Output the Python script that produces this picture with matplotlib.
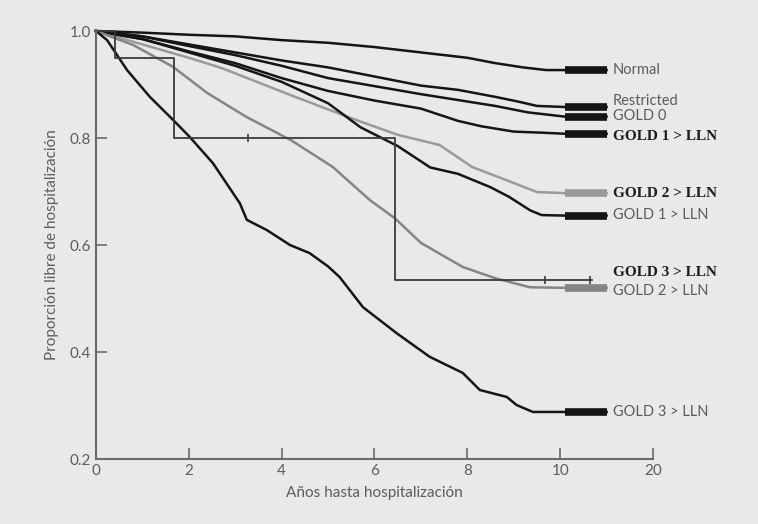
import numpy as np
import matplotlib
matplotlib.use("Agg")
import matplotlib.pyplot as plt

# Kaplan-Meier style curves
normal_x = [0, 1, 2, 3, 4, 5, 6, 7, 8, 8.6, 9.2, 9.7, 10.1, 11.0]
normal_y = [1.0, 0.997, 0.993, 0.99, 0.983, 0.978, 0.97, 0.96, 0.95, 0.94, 0.932, 0.927, 0.927, 0.927]

restricted_x = [0, 1, 2, 3, 4, 5, 6, 7, 7.8, 8.6, 9.1, 9.5, 10.1, 11.0]
restricted_y = [1.0, 0.99, 0.975, 0.96, 0.945, 0.932, 0.915, 0.898, 0.89, 0.877, 0.868, 0.86, 0.858, 0.858]

gold0_x = [0, 1, 2, 3, 4, 5, 6, 7, 7.8, 8.6, 9.3, 10.1, 11.0]
gold0_y = [1.0, 0.99, 0.972, 0.955, 0.935, 0.912, 0.897, 0.882, 0.871, 0.86, 0.848, 0.84, 0.84]

gold1b_x = [0, 1, 2, 3, 4, 5, 6, 7, 7.8, 8.3, 9.0, 9.6, 10.1, 11.0]
gold1b_y = [1.0, 0.985, 0.962, 0.94, 0.912, 0.888, 0.87, 0.855, 0.832, 0.822, 0.812, 0.81, 0.808, 0.808]

gold1_x = [0, 1, 2, 3, 4, 5, 5.7, 6.5, 7.2, 7.8, 8.5, 8.9, 9.35, 9.6, 10.1, 11.0]
gold1_y = [1.0, 0.985, 0.96, 0.935, 0.905, 0.865, 0.82, 0.785, 0.745, 0.733, 0.708, 0.69, 0.665, 0.656, 0.655, 0.655]

gold2b_x = [0, 1, 2, 2.7, 4.2, 5.5, 6.5, 7.4, 8.1, 8.85, 9.5, 10.1, 11.0]
gold2b_y = [1.0, 0.975, 0.95, 0.931, 0.88, 0.837, 0.806, 0.787, 0.746, 0.721, 0.699, 0.697, 0.697]

gold2_x = [0, 0.8, 1.66, 2.4, 3.25, 4.2, 5.1, 5.9, 6.44, 7.0, 7.9, 8.6, 9.35, 10.1, 11.0]
gold2_y = [1.0, 0.974, 0.933, 0.884, 0.839, 0.796, 0.746, 0.684, 0.65, 0.604, 0.559, 0.538, 0.521, 0.52, 0.52]

gold3_x = [0, 0.24, 0.67, 1.16, 1.66, 2.02, 2.52, 3.1, 3.25, 3.68, 4.18, 4.6, 5.0, 5.25,
           5.75, 6.48, 7.19, 7.9, 8.27, 8.85, 9.06, 9.41, 10.1, 11.0]
gold3_y = [1.0, 0.983, 0.927, 0.877, 0.834, 0.802, 0.753, 0.678, 0.647, 0.628, 0.6, 0.585, 0.56, 0.54,
           0.484, 0.435, 0.391, 0.361, 0.329, 0.316, 0.301, 0.288, 0.288, 0.288]

# small group: step curve with a few censored cases
gold3b_x = [0, 0.4, 1.68, 6.44, 10.68]
gold3b_y = [1.0, 0.95, 0.80, 0.535, 0.535]
gold3b_censor_x = [3.27, 9.67, 10.64]
gold3b_censor_y = [0.80, 0.535, 0.535]

labels = ["Normal", "Restricted", "GOLD 0", "GOLD 1 > LLN", "GOLD 2 > LLN",
          "GOLD 1 > LLN", "GOLD 3 > LLN", "GOLD 2 > LLN", "GOLD 3 > LLN"]
label_y = [0.927, 0.869, 0.841, 0.802, 0.697, 0.656, 0.548, 0.514, 0.288]
label_bold = [False, False, False, True, True, False, True, False, False]

xticks = [0, 2, 4, 6, 8, 10, 12]
xticklabels = ["0", "2", "4", "6", "8", "10", "20"]
yticks = [0.2, 0.4, 0.6, 0.8, 1.0]

BG = "#e9e9e9"
AXC = "#6a6a6a"
TXT = "#5c5c5c"

fig = plt.figure(figsize=(7.58, 5.24), dpi=100)
fig.patch.set_facecolor(BG)
ax = fig.add_axes([0.1266, 0.124, 0.7349, 0.8168])
ax.set_facecolor(BG)

curves = [
    (normal_x, normal_y, "#151515"),
    (restricted_x, restricted_y, "#151515"),
    (gold0_x, gold0_y, "#151515"),
    (gold1b_x, gold1b_y, "#151515"),
    (gold2b_x, gold2b_y, "#9a9a9a"),
    (gold1_x, gold1_y, "#151515"),
    (gold2_x, gold2_y, "#858585"),
    (gold3_x, gold3_y, "#151515"),
]
for xs, ys, c in curves:
    ax.plot(xs, ys, color=c, lw=1.8, clip_on=False)
    # dense censoring at the end of follow-up
    ax.plot(xs[-2:], ys[-2:], color=c, lw=5.5, solid_capstyle="butt", clip_on=False)

ax.plot(gold3b_x, gold3b_y, color="#3a3a3a", lw=1.3, drawstyle="steps-post", clip_on=False)
ax.plot(gold3b_censor_x, gold3b_censor_y, linestyle="none", marker="|", ms=6,
        color="#3a3a3a", mew=1.2)

for txt, yv, bold in zip(labels, label_y, label_bold):
    if bold:
        ax.text(11.13, yv, txt, ha="left", va="center", fontsize=11,
                family="Liberation Serif", weight="bold", color="#1c1c1c", clip_on=False)
    else:
        ax.text(11.13, yv, txt, ha="left", va="center", fontsize=10.5,
                family="Lato", color=TXT, clip_on=False)

ax.set_xlim(0, 12)
ax.set_ylim(0.2, 1.0)
ax.set_xticks(xticks)
ax.set_xticklabels(xticklabels)
ax.set_yticks(yticks)
ax.set_yticklabels(["%.1f" % v for v in yticks])
for s in ["top", "right"]:
    ax.spines[s].set_visible(False)
for s in ["left", "bottom"]:
    ax.spines[s].set_color(AXC)
    ax.spines[s].set_linewidth(1.5)
ax.tick_params(direction="in", length=8, width=1.2, color=AXC, labelcolor=TXT, labelsize=11)
for lab in ax.get_xticklabels() + ax.get_yticklabels():
    lab.set_family("Lato")

ax.set_xlabel("Años hasta hospitalización", family="Lato", fontsize=11, color=TXT, labelpad=6)
ax.set_ylabel("Proporción libre de hospitalización", family="Lato", fontsize=11, color=TXT, labelpad=8)

fig.savefig("out.png", dpi=100, facecolor=BG)
